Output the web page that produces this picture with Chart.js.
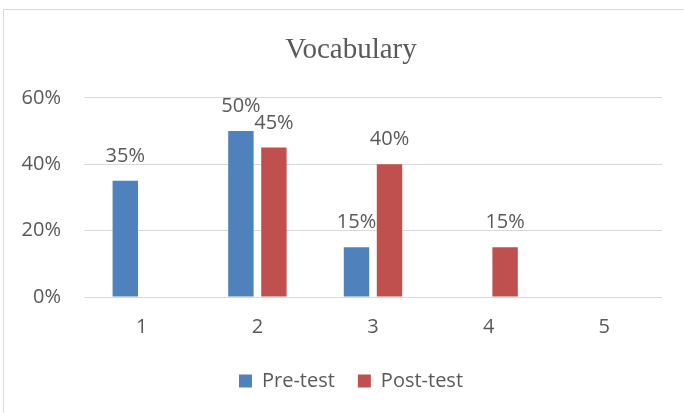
<!DOCTYPE html>
<html lang="en">
<head>
  <meta charset="UTF-8">
  <title>Vocabulary</title>
  <script src="https://cdn.jsdelivr.net/npm/chart.js"></script>
  <style>
    html, body {
      margin: 0;
      padding: 0;
      background: #fff;
      overflow: hidden;
    }
    canvas { display: block; }
  </style>
</head>
<body>
  <canvas id="vocabChart" width="684" height="413"></canvas>

<script>
  const categories = ['1', '2', '3', '4', '5'];
  const preTest = [35, 50, 15, 0, 0];
  const postTest = [0, 45, 40, 15, 0];
  const yTicks = [0, 20, 40, 60];

  const textColor = '#595959';
  const labelFont = { family: "'Open Sans', sans-serif", size: 20 };

  // draws the value above each non-zero bar
  const valueLabels = {
    id: 'valueLabels',
    afterDatasetsDraw(chart) {
      const ctx = chart.ctx;
      ctx.save();
      ctx.font = `${labelFont.size}px ${labelFont.family}`;
      ctx.fillStyle = textColor;
      ctx.textAlign = 'center';
      ctx.textBaseline = 'alphabetic';
      chart.data.datasets.forEach((ds, i) => {
        chart.getDatasetMeta(i).data.forEach((bar, j) => {
          if (ds.data[j] > 0) {
            ctx.fillText(ds.data[j] + '%', bar.x, bar.y - 19);
          }
        });
      });
      ctx.restore();
    }
  };

  // light frame round the chart
  const frame = {
    id: 'frame',
    beforeDraw(chart) {
      const ctx = chart.ctx;
      ctx.save();
      ctx.strokeStyle = '#d9d9d9';
      ctx.lineWidth = 1;
      ctx.strokeRect(3.5, 9.5, 700, 420);
      ctx.restore();
    }
  };

  const ctx = document.getElementById('vocabChart').getContext('2d');
  const vocabChart = new Chart(ctx, {
    type: 'bar',
    data: {
      labels: categories,
      datasets: [
        { label: 'Pre-test', data: preTest, backgroundColor: '#4F81BD' },
        { label: 'Post-test', data: postTest, backgroundColor: '#C0504D' }
      ]
    },
    options: {
      responsive: false,
      animation: false,
      events: [],
      categoryPercentage: 0.571,
      barPercentage: 0.77,
      layout: { padding: { left: 18, right: 0, top: 0, bottom: 12 } },
      scales: {
        x: {
          grid: { display: false },
          border: { display: false },
          ticks: { color: textColor, font: labelFont, padding: 10 },
          afterFit: s => { s.height = 51; }
        },
        y: {
          min: 0,
          max: 60,
          afterBuildTicks: s => { s.ticks = yTicks.map(v => ({ value: v })); },
          grid: { color: '#d9d9d9', lineWidth: 1, drawTicks: false },
          border: { display: false },
          ticks: { color: textColor, font: labelFont, padding: 23, callback: v => v + '%' },
          afterFit: s => { s.width = 66; }
        },
        // empty right-hand axis, only keeps the plot clear of the right edge
        yRight: {
          position: 'right',
          display: true,
          grid: { display: false },
          border: { display: false },
          ticks: { display: false },
          afterFit: s => { s.width = 22; }
        }
      },
      plugins: {
        title: {
          display: true,
          text: 'Vocabulary',
          color: textColor,
          font: { family: "'Liberation Serif', 'Times New Roman', serif", size: 29, weight: 'normal' },
          padding: { top: 33, bottom: 30 }
        },
        legend: {
          position: 'bottom',
          labels: {
            color: textColor,
            font: labelFont,
            boxWidth: 13,
            boxHeight: 13,
            padding: 23
          }
        },
        tooltip: { enabled: false }
      }
    },
    plugins: [valueLabels, frame]
  });
</script>
</body>
</html>
